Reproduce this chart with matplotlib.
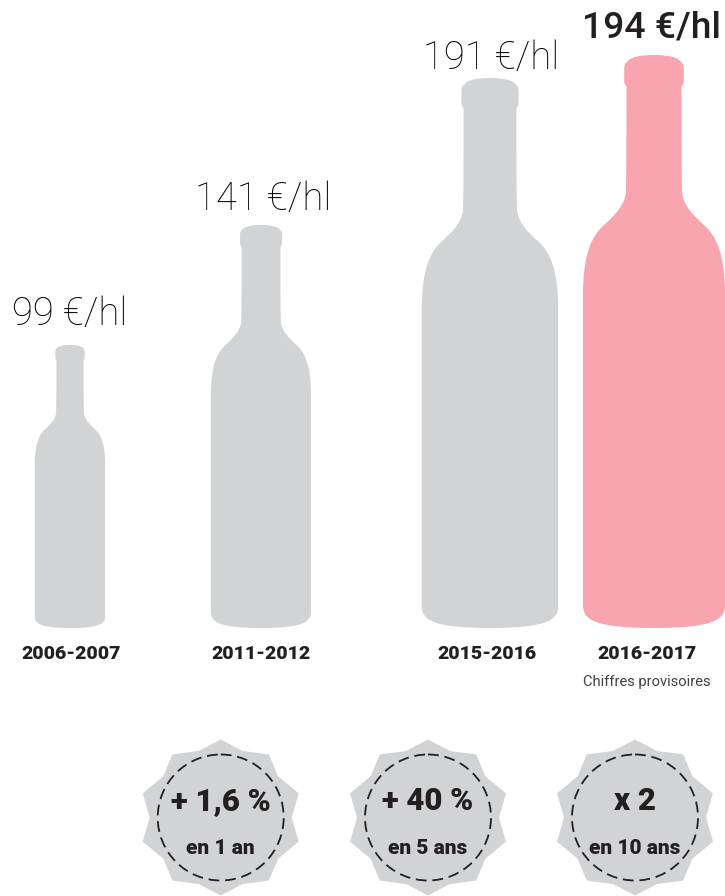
import numpy as np
import matplotlib
matplotlib.use("Agg")
from matplotlib import pyplot as plt
from matplotlib.path import Path
from matplotlib.patches import PathPatch, Polygon, Circle
from matplotlib.transforms import Affine2D

plt.rcParams['font.family'] = ['Roboto', 'DejaVu Sans']

# data
years = ["2006-2007", "2011-2012", "2015-2016", "2016-2017"]
prices = [99, 141, 191, 194]
price_labels = ["99 €/hl", "141 €/hl", "191 €/hl", "194 €/hl"]
badge_main = ["+ 1,6 %", "+ 40 %", "x 2"]
badge_sub = ["en 1 an", "en 5 ans", "en 10 ans"]

# layout, in picture pixels
bottle_x = [70, 261, 490, 654]
bottle_h = [283, 403, 550, 573]
bottle_bottom = 628
label_x = [70, 263, 491, 652]
label_y = [314, 199, 58, 28]
year_x = [71, 261, 487, 647]
badge_x = [220.7, 428, 635]
badge_y = 817.5

gray = "#d1d3d4"
pink = "#f8a5b0"
dark = "#231f20"

# right half of the bottle outline, x = half width / height, y = 0 top, 1 bottom
half = [
    (0.000, 0.000),
    (0.025, 0.000), (0.042, 0.004), (0.047, 0.012),
    (0.050, 0.014), (0.052, 0.018), (0.052, 0.024),
    (0.052, 0.030), (0.052, 0.046), (0.052, 0.048),
    (0.051, 0.051), (0.049, 0.053), (0.048, 0.055),
    (0.048, 0.120), (0.048, 0.190), (0.049, 0.240),
    (0.052, 0.265), (0.070, 0.280), (0.085, 0.295),
    (0.110, 0.315), (0.124, 0.350), (0.124, 0.420),
    (0.124, 0.600), (0.124, 0.800), (0.124, 0.960),
    (0.124, 0.985), (0.105, 1.000), (0.000, 1.000),
]
pts = half + [(-x, y) for x, y in half[-2::-1]]
codes = [Path.MOVETO] + [Path.CURVE4] * (len(pts) - 1)
bottle = Path(pts, codes)

fig = plt.figure(figsize=(7.25, 8.96), dpi=100)
ax = fig.add_axes([0, 0, 1, 1])
ax.set_xlim(0, 725)
ax.set_ylim(896, 0)
ax.axis("off")

for i in range(len(years)):
    color = pink if i == 3 else gray
    tr = Affine2D().scale(bottle_h[i]).translate(bottle_x[i], bottle_bottom - bottle_h[i])
    ax.add_patch(PathPatch(bottle, transform=tr + ax.transData, fc=color, ec="none"))
    if i == 3:
        ax.text(label_x[i], label_y[i], price_labels[i], ha="center", va="center",
                fontsize=26.8, color=dark, fontweight="medium")
    else:
        ax.text(label_x[i], label_y[i], price_labels[i], ha="center", va="center",
                fontsize=27.5, color="black", fontweight="light")
    ax.text(year_x[i], 654, years[i], ha="center", va="center", fontsize=14,
            fontweight="black", color=dark)
ax.text(647, 682, "Chiffres provisoires", ha="center", va="center", fontsize=10.6, color="#414042")

# badges
n = 10
for i in range(3):
    ang = np.pi / 2 + np.arange(2 * n) * np.pi / n
    rx = np.where(np.arange(2 * n) % 2 == 0, 82, 71)
    ry = np.where(np.arange(2 * n) % 2 == 0, 78, 70)
    xy = np.column_stack([badge_x[i] + rx * np.cos(ang), badge_y + ry * np.sin(ang)])
    ax.add_patch(Polygon(xy, closed=True, fc=gray, ec="none"))
    ax.add_patch(Circle((badge_x[i], badge_y), 63, fill=False, ec=dark, lw=1.3, ls=(0, (6, 3.2))))
    ax.text(badge_x[i], 801, badge_main[i], ha="center", va="center", fontsize=22.5,
            fontweight="black", color=dark)
    ax.text(badge_x[i], 848, badge_sub[i], ha="center", va="center", fontsize=15,
            fontweight="black", color=dark)

fig.savefig("out.png", dpi=100)
